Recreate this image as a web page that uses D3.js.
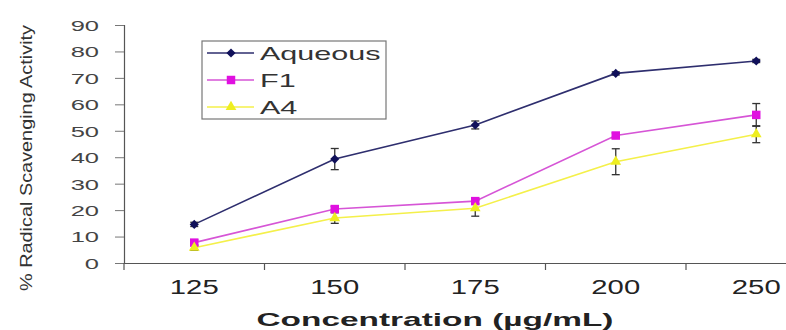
<!DOCTYPE html>
<html>
<head>
<meta charset="utf-8">
<script src="https://cdn.jsdelivr.net/npm/d3@7"></script>
<style>
  html, body { margin: 0; padding: 0; background: #fff; }
  svg { display: block; font-family: "Liberation Sans", Arial, sans-serif; }
</style>
</head>
<body>
<svg id="chart" width="786" height="330"></svg>
<script>
// Concentrations tested (µg/mL)
const categories = ["125", "150", "175", "200", "250"];

// % radical scavenging activity, mean ± error, per extract
const aqueous    = [14.6, 39.3, 52.2, 71.7, 76.4];
const aqueousErr = [0.8, 4.0, 1.5, 0.6, 0.6];
const f1         = [7.7, 20.4, 23.4, 48.2, 56.0];
const f1Err      = [1.0, 1.0, 1.0, 1.0, 4.3];
const a4         = [5.8, 17.0, 20.7, 38.3, 48.7];
const a4Err      = [1.0, 2.0, 3.0, 4.9, 3.2];

const yTicks = [0, 10, 20, 30, 40, 50, 60, 70, 80, 90];

const series = [
  { name: "Aqueous", values: aqueous, err: aqueousErr, line: "#2e2e6e", fill: "#10105a", shape: d3.symbolSquare,   size: 42, rot: 45 },
  { name: "F1",      values: f1,      err: f1Err,      line: "#d655d6", fill: "#e010e0", shape: d3.symbolSquare,   size: 72, rot: 0 },
  { name: "A4",      values: a4,      err: a4Err,      line: "#f4f04a", fill: "#eeee20", shape: d3.symbolTriangle, size: 50, rot: 0 }
];

const svg = d3.select("#chart");

const x = d3.scaleBand().domain(categories).range([124, 826.5]).padding(0);
const y = d3.scaleLinear().domain([0, 90]).range([263, 25]);

// Stretch text horizontally to the wide glyph proportions of the figure
function widen(sel, factor) {
  sel.each(function () {
    const len = this.getComputedTextLength();
    d3.select(this).attr("textLength", len * factor).attr("lengthAdjust", "spacingAndGlyphs");
  });
}

// Y axis
const yAxis = svg.append("g")
  .attr("transform", "translate(124,0)")
  .call(d3.axisLeft(y).tickValues(yTicks).tickSize(9).tickPadding(16));
yAxis.select(".domain").attr("stroke", "#555").attr("stroke-width", 1.2);
yAxis.selectAll(".tick line").attr("stroke", "#777");
yAxis.selectAll(".tick text")
  .attr("font-size", 15).attr("fill", "#444").attr("dy", "0.36em")
  .call(widen, 1.7);

// X axis: labels centred in bands, tick marks at band boundaries
const xAxis = svg.append("g")
  .attr("transform", "translate(0,263)")
  .call(d3.axisBottom(x).tickSize(0).tickPadding(17));
xAxis.select(".domain").attr("stroke", "#555").attr("stroke-width", 1.2);
xAxis.selectAll(".tick text")
  .attr("font-size", 19.5).attr("fill", "#222")
  .call(widen, 1.5);
xAxis.selectAll(".boundary")
  .data(categories)
  .join("line")
  .attr("class", "boundary")
  .attr("x1", d => x(d)).attr("x2", d => x(d))
  .attr("y1", 0).attr("y2", 7)
  .attr("stroke", "#555").attr("stroke-width", 1.2);

// Axis titles
svg.append("text")
  .attr("x", 435).attr("y", 326)
  .attr("text-anchor", "middle")
  .attr("font-size", 19).attr("font-weight", "bold").attr("fill", "#222")
  .attr("textLength", 357).attr("lengthAdjust", "spacingAndGlyphs")
  .text("Concentration (µg/mL)");

svg.append("text")
  .attr("transform", "translate(32,158) rotate(-90)")
  .attr("text-anchor", "middle")
  .attr("font-size", 17).attr("fill", "#333")
  .attr("textLength", 266).attr("lengthAdjust", "spacingAndGlyphs")
  .text("% Radical Scavenging Activity");

const line = d3.line()
  .x((d, i) => x(categories[i]) + x.bandwidth() / 2)
  .y(d => y(d));

// Lines
series.forEach(s => {
  svg.append("path")
    .datum(s.values)
    .attr("fill", "none")
    .attr("stroke", s.line)
    .attr("stroke-width", 1.6)
    .attr("d", line);
});

// Error bars
series.forEach(s => {
  const g = svg.append("g");
  s.values.forEach((v, i) => {
    const cx = x(categories[i]) + x.bandwidth() / 2;
    const top = y(v + s.err[i]), bot = y(v - s.err[i]);
    g.append("line").attr("x1", cx).attr("x2", cx).attr("y1", top).attr("y2", bot)
      .attr("stroke", "#333").attr("stroke-width", 1.3);
    [top, bot].forEach(yy => g.append("line")
      .attr("x1", cx - 4).attr("x2", cx + 4).attr("y1", yy).attr("y2", yy)
      .attr("stroke", "#333").attr("stroke-width", 1.3));
  });
});

// Markers
series.forEach(s => {
  svg.append("g").selectAll("path")
    .data(s.values)
    .join("path")
    .attr("transform", (d, i) => `translate(${x(categories[i]) + x.bandwidth() / 2},${y(d)}) rotate(${s.rot})`)
    .attr("d", d3.symbol().type(s.shape).size(s.size))
    .attr("fill", s.fill);
});

// Legend
const legend = svg.append("g");
legend.append("rect")
  .attr("x", 202).attr("y", 41).attr("width", 184).attr("height", 78)
  .attr("fill", "#fff").attr("stroke", "#777").attr("stroke-width", 1.2);
series.forEach((s, i) => {
  const ly = 53 + i * 27;
  legend.append("line")
    .attr("x1", 207).attr("x2", 254).attr("y1", ly).attr("y2", ly)
    .attr("stroke", s.line).attr("stroke-width", 1.6);
  legend.append("path")
    .attr("transform", `translate(231,${ly}) rotate(${s.rot})`)
    .attr("d", d3.symbol().type(s.shape).size(s.size))
    .attr("fill", s.fill);
  legend.append("text")
    .attr("x", 260).attr("y", ly).attr("dy", "0.36em")
    .attr("font-size", 18.5).attr("fill", "#333")
    .text(s.name)
    .call(widen, 1.65);
});
</script>
</body>
</html>
